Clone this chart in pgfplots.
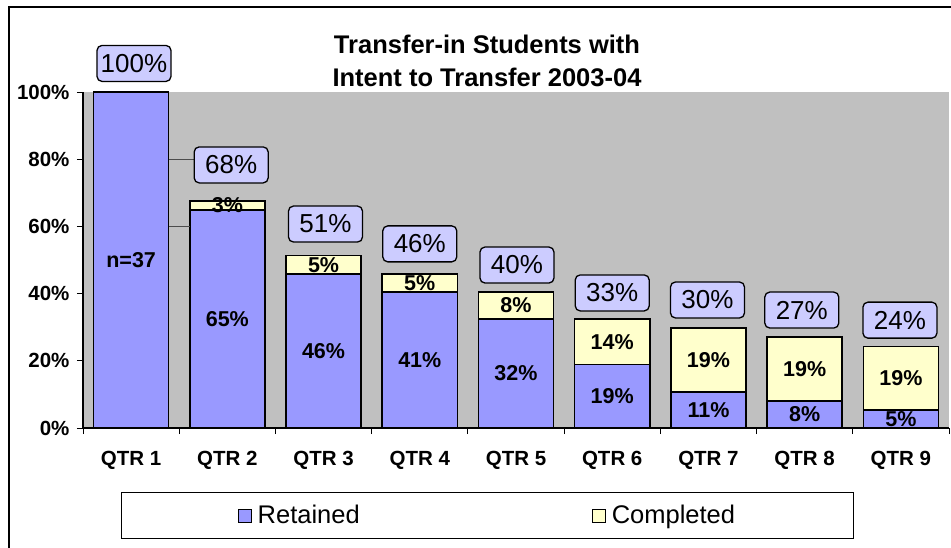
\documentclass[border=0pt]{standalone}
\usepackage{fontspec}
\setmainfont{Liberation Sans}
\usepackage{pgfplots}
\pgfplotsset{compat=1.18}
\definecolor{retBlue}{HTML}{9999FF}
\definecolor{compYel}{HTML}{FFFFCC}
\definecolor{bgGray}{HTML}{C0C0C0}
\definecolor{boxLav}{HTML}{CCCCFF}
\tikzset{
  lbl/.style={font=\fontsize{21.5bp}{24bp}\selectfont\bfseries},
  totbox/.style={draw=black, line width=1.3bp, fill=boxLav, rounded corners=5bp,
    minimum width=74bp, minimum height=36bp, inner sep=0pt,
    font=\fontsize{26bp}{30bp}\selectfont},
}

\begin{document}
\begin{tikzpicture}
\begin{axis}[
  at={(0bp,0bp)}, anchor=south west,
  scale only axis, width=866bp, height=336bp,
  ybar stacked, bar width=0.78,
  xmin=-0.5, xmax=8.5, ymin=0, ymax=100,
  clip=false,
  axis background/.style={fill=bgGray},
  axis x line*=bottom, axis y line*=left,
  axis line style={line width=1.2bp, black},
  xtick={-0.5,0.5,...,8.5}, x tick label as interval,
  xticklabels={QTR 1,QTR 2,QTR 3,QTR 4,QTR 5,QTR 6,QTR 7,QTR 8,QTR 9},
  ytick={0,20,...,100}, yticklabels={0\%,20\%,40\%,60\%,80\%,100\%},
  tick align=outside, major tick length=6bp,
  tick style={line width=0.8bp, black},
  ticklabel style={font=\fontsize{20.5bp}{24bp}\selectfont\bfseries},
  xticklabel style={yshift=-14bp},
  yticklabel style={xshift=-4bp},
  legend style={at={(0.467,-0.26)}, anchor=center, legend columns=2,
    draw=black, line width=0.8bp, fill=white,
    inner xsep=116bp, inner ysep=12bp,
    font=\fontsize{25.5bp}{30bp}\selectfont,
    nodes={inner xsep=2bp, inner ysep=1bp},
    /tikz/every odd column/.append style={column sep=4bp},
    /tikz/every even column/.append style={column sep=230bp}},
]
\draw[black!70, line width=0.8bp] (axis cs:0.39,80) -- (axis cs:0.66,80);
\draw[black!70, line width=0.8bp] (axis cs:0.39,60) -- (axis cs:0.61,60);

\addplot[fill=retBlue, draw=black, line width=1.6bp,
  legend image code/.code={\draw[fill=retBlue, draw=black, line width=1bp] (0bp,-7bp) rectangle (13bp,6bp);}]
  coordinates {(0,100) (1,64.9) (2,45.9) (3,40.5) (4,32.4) (5,18.9) (6,10.8) (7,8.1) (8,5.4)};
\addlegendentry{Retained}
\addplot[fill=compYel, draw=black, line width=1.6bp,
  legend image code/.code={\draw[fill=compYel, draw=black, line width=1bp] (0bp,-7bp) rectangle (13bp,6bp);}]
  coordinates {(0,0) (1,2.7) (2,5.4) (3,5.4) (4,8.1) (5,13.5) (6,18.9) (7,18.9) (8,18.9)};
\addlegendentry{Completed}
\end{axis}

% labels, in category / percent units of the axis above
\begin{scope}[x=96.222bp, y=3.36bp, shift={(48.111bp,0bp)}]
\node[lbl] at (0,50) {n=37};
\node[lbl] at (1,32.45) {65\%};
\node[lbl] at (1,66.25) {3\%};
\node[lbl] at (2,22.95) {46\%};
\node[lbl] at (2,48.6) {5\%};
\node[lbl] at (3,20.25) {41\%};
\node[lbl] at (3,43.2) {5\%};
\node[lbl] at (4,16.2) {32\%};
\node[lbl] at (4,36.45) {8\%};
\node[lbl] at (5,9.45) {19\%};
\node[lbl] at (5,25.65) {14\%};
\node[lbl] at (6,5.4) {11\%};
\node[lbl] at (6,20.25) {19\%};
\node[lbl] at (7,4.05) {8\%};
\node[lbl] at (7,17.55) {19\%};
\node[lbl] at (8,2.6) {5\%};
\node[lbl] at (8,14.85) {19\%};

\node[totbox] at (0.03,108.5) {100\%};
\node[totbox] at (1.04,78.3) {68\%};
\node[totbox] at (2.02,60.7) {51\%};
\node[totbox] at (3.0,54.8) {46\%};
\node[totbox] at (4.01,48.5) {40\%};
\node[totbox] at (5.0,40.2) {33\%};
\node[totbox] at (5.99,38.1) {30\%};
\node[totbox] at (6.97,35.1) {27\%};
\node[totbox] at (7.99,32.1) {24\%};
\end{scope}

\node[align=center, font=\fontsize{25.5bp}{33bp}\selectfont\bfseries] at (404bp,367.5bp)
  {Transfer-in Students with\\Intent to Transfer 2003-04};
\draw[black, line width=1.5bp] (-74bp,-150bp) rectangle (890bp,421bp);

\pgfresetboundingbox
\path (-83bp,-120bp) rectangle (868bp,428bp);
\end{tikzpicture}
\end{document}
